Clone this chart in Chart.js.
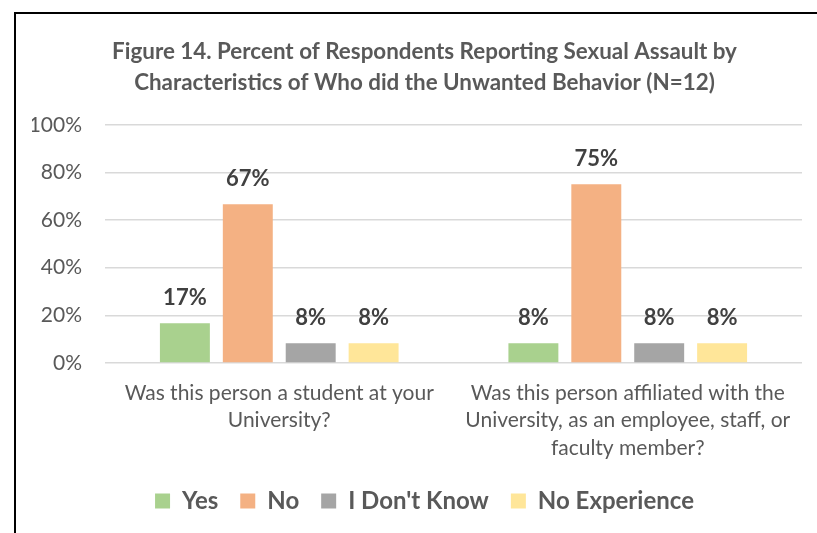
<!DOCTYPE html>
<html lang="en">
  <head>
    <meta charset="UTF-8" />
    <title>Figure 14</title>
    <script src="https://cdn.jsdelivr.net/npm/chart.js"></script>
    <style>
      html, body { margin: 0; padding: 0; background: #fff; overflow: hidden; }
      #wrap { position: relative; width: 817px; height: 533px; }
      #frame {
        position: absolute; left: 14px; top: 12px;
        width: 1000px; height: 1000px;
        border: 2px solid #000; pointer-events: none;
      }
    </style>
  </head>
  <body>
    <div id="wrap">
      <canvas id="chart" width="817" height="533"></canvas>
      <div id="frame"></div>
    </div>

    <script>
      const categories = [
        ["Was this person a student at your", "University?"],
        ["Was this person affiliated with the", "University, as an employee, staff, or", "faculty member?"],
      ];
      const seriesNames = ["Yes", "No", "I Don't Know", "No Experience"];
      const seriesColors = ["#A9D18E", "#F4B183", "#A5A5A5", "#FFE699"];
      const yesValues = [16.67, 8.33];
      const noValues = [66.67, 75];
      const dontKnowValues = [8.33, 8.33];
      const noExperienceValues = [8.33, 8.33];
      const yTicks = [0, 20, 40, 60, 80, 100];

      const allValues = [yesValues, noValues, dontKnowValues, noExperienceValues];

      // draws the percent above each bar
      const barLabels = {
        id: "barLabels",
        afterDatasetsDraw(chart) {
          const c = chart.ctx;
          c.save();
          c.font = "bold 22px Lato";
          c.fillStyle = "#404040";
          c.textAlign = "center";
          c.textBaseline = "alphabetic";
          chart.data.datasets.forEach((ds, i) => {
            chart.getDatasetMeta(i).data.forEach((bar, j) => {
              c.fillText(Math.round(ds.data[j]) + "%", bar.x, bar.y - 18);
            });
          });
          c.restore();
        },
      };

      new Chart(document.getElementById("chart"), {
        type: "bar",
        data: {
          labels: categories,
          datasets: seriesNames.map((name, i) => ({
            label: name,
            data: allValues[i],
            backgroundColor: seriesColors[i],
            categoryPercentage: 0.722,
            barPercentage: 0.794,
          })),
        },
        options: {
          responsive: false,
          animation: false,
          layout: { padding: { left: 32, right: 0, top: 0, bottom: 10 } },
          plugins: {
            title: {
              display: true,
              text: [
                "Figure 14. Percent of Respondents Reporting Sexual Assault by",
                "Characteristics of Who did the Unwanted Behavior (N=12)",
              ],
              color: "#595959",
              font: { family: "Lato", size: 22.4, weight: "bold", lineHeight: 1.38 },
              padding: { top: 36, bottom: 27 },
            },
            legend: {
              position: "bottom",
              labels: {
                boxWidth: 15,
                boxHeight: 15,
                padding: 22,
                color: "#595959",
                font: { family: "Lato", size: 24, weight: "bold" },
              },
            },
            tooltip: { enabled: false },
          },
          scales: {
            x: {
              grid: { display: false },
              border: { display: false },
              ticks: {
                color: "#595959",
                font: { family: "Lato", size: 21, lineHeight: 1.31 },
                padding: 8,
                maxRotation: 0,
              },
              afterFit: (axis) => {
                axis.height = 104;
              },
            },
            y: {
              min: 0,
              max: 100,
              afterBuildTicks: (axis) => {
                axis.ticks = yTicks.map((v) => ({ value: v }));
              },
              afterFit: (axis) => {
                axis.width = 73;
              },
              grid: { color: "#D9D9D9", lineWidth: 1.5, drawTicks: false },
              border: { display: false },
              ticks: {
                color: "#595959",
                font: { family: "Lato", size: 21 },
                padding: 23,
                callback: (v) => v + "%",
              },
            },
            // empty right-hand axis, only keeps some room at the right edge
            yRight: {
              type: "linear",
              position: "right",
              grid: { display: false },
              border: { display: false },
              ticks: { display: false },
              afterFit: (axis) => {
                axis.width = 15;
              },
            },
          },
        },
        plugins: [barLabels],
      });
    </script>
  </body>
</html>
